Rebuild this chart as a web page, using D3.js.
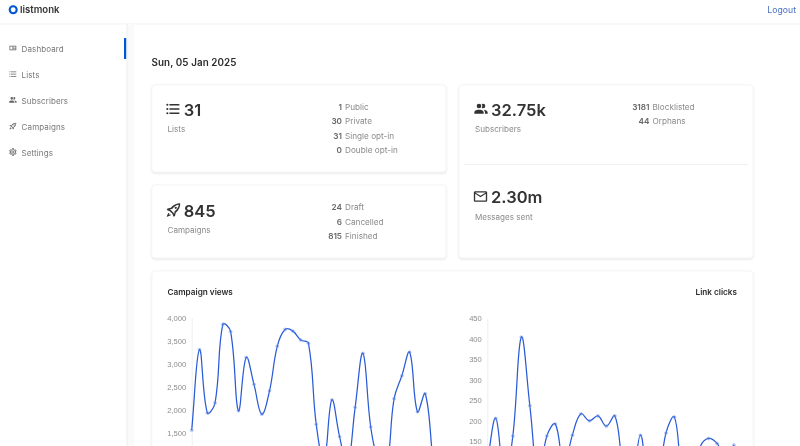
<!DOCTYPE html>
<html>
<head>
<meta charset="utf-8">
<script src="https://cdn.jsdelivr.net/npm/d3@7"></script>
<style>
  html, body { margin: 0; padding: 0; background: #fff; overflow: hidden; }
  svg { display: block; filter: blur(0.3px); }
  text { font-family: Inter, "Noto Sans", sans-serif; }
  .tick text { font-family: "Liberation Sans", sans-serif; }
</style>
</head>
<body>
<svg id="page" width="800" height="446"></svg>
<script>
const navItems = ["Dashboard", "Lists", "Subscribers", "Campaigns", "Settings"];

const listRows = [["1", "Public"], ["30", "Private"], ["31", "Single opt-in"], ["0", "Double opt-in"]];
const campaignRows = [["24", "Draft"], ["6", "Cancelled"], ["815", "Finished"]];
const subscriberRows = [["3181", "Blocklisted"], ["44", "Orphans"]];

// some of these fall below the fold, so those are guesses from the curve
const viewValues = [1570, 3310, 1945, 2160, 3855, 3700, 1990, 3140, 2560, 1915, 2420, 3385, 3745, 3710, 3520, 3447,
  1695, 900, 2221, 1428, 800, 2063, 3230, 1637, 900, 750, 2249, 2746, 3252, 1968, 2357, 900];
const clickValues = [100, 206, 60, 163, 404, 237, 60, 163, 192, 90, 165, 217, 200, 212, 187,
  212, 90, 50, 165, 50, 50, 170, 209, 60, 40, 135, 157, 145, 110, 141];
const viewDomain = [0, 4000];
const clickDomain = [0, 450];
// only the labels above the fold
const viewTicks = [1500, 2000, 2500, 3000, 3500, 4000];
const clickTicks = [150, 200, 250, 300, 350, 400, 450];

const icons = {
  list: "M7,5H21V7H7V5M7,13V11H21V13H7M4,4.5A1.5,1.5 0 0,1 5.5,6A1.5,1.5 0 0,1 4,7.5A1.5,1.5 0 0,1 2.5,6A1.5,1.5 0 0,1 4,4.5M4,10.5A1.5,1.5 0 0,1 5.5,12A1.5,1.5 0 0,1 4,13.5A1.5,1.5 0 0,1 2.5,12A1.5,1.5 0 0,1 4,10.5M7,19V17H21V19H7M4,16.5A1.5,1.5 0 0,1 5.5,18A1.5,1.5 0 0,1 4,19.5A1.5,1.5 0 0,1 2.5,18A1.5,1.5 0 0,1 4,16.5Z",
  people: "M16 17V19H2V17S2 13 9 13 16 17 16 17M12.5 7.5A3.5 3.5 0 1 0 9 11A3.5 3.5 0 0 0 12.5 7.5M15.94 13A5.32 5.32 0 0 1 18 17V19H22V17S22 13.37 15.94 13M15 4A3.39 3.39 0 0 0 13.07 4.59A5 5 0 0 1 13.07 10.41A3.39 3.39 0 0 0 15 11A3.5 3.5 0 0 0 15 4Z",
  mail: "M22 6C22 4.9 21.1 4 20 4H4C2.9 4 2 4.9 2 6V18C2 19.1 2.9 20 4 20H20C21.1 20 22 19.1 22 18V6M20 6L12 11L4 6H20M20 18H4V8L12 13L20 8V18Z",
  rocket: "M21 3C16 3 11.5 5 8.5 9L4 10L3 12L7 13.5L10.5 17L12 21L14 20L15 15.5C19 12.5 21 8 21 3M19 5C18.7 8 17 11 13.5 13.8L13 16.5L12.8 17L11.9 15.6L8.4 12.1L7 11.2L7.5 11L10.2 10.5C13 7 16 5.3 19 5M15 7.5A1.5 1.5 0 1 0 15 10.5A1.5 1.5 0 1 0 15 7.5M5.5 15.5C4 17 3 21 3 21S7 20 8.5 18.5L7.5 17.5L5.5 18.5L6.5 16.5Z",
  dash: "M3 6H21V18H3V6M5 8V16H11V8H5M13 8V11H19V8H13M13 13V16H19V13H13Z",
  cog: "M12,8A4,4 0 0,1 16,12A4,4 0 0,1 12,16A4,4 0 0,1 8,12A4,4 0 0,1 12,8M12,10A2,2 0 0,0 10,12A2,2 0 0,0 12,14A2,2 0 0,0 14,12A2,2 0 0,0 12,10M10,22C9.75,22 9.54,21.82 9.5,21.58L9.13,18.93C8.5,18.68 7.96,18.34 7.44,17.94L4.95,18.95C4.73,19.03 4.46,18.95 4.34,18.73L2.34,15.27C2.21,15.05 2.27,14.78 2.46,14.63L4.57,12.97L4.5,12L4.57,11L2.46,9.37C2.27,9.22 2.21,8.95 2.34,8.73L4.34,5.27C4.46,5.05 4.73,4.96 4.95,5.05L7.44,6.05C7.96,5.66 8.5,5.32 9.13,5.07L9.5,2.42C9.54,2.18 9.75,2 10,2H14C14.25,2 14.46,2.18 14.5,2.42L14.87,5.07C15.5,5.32 16.04,5.66 16.56,6.05L19.05,5.05C19.27,4.96 19.54,5.05 19.66,5.27L21.66,8.73C21.79,8.95 21.73,9.22 21.54,9.37L19.43,11L19.5,12L19.43,13L21.54,14.63C21.73,14.78 21.79,15.05 21.66,15.27L19.66,18.73C19.54,18.95 19.27,19.04 19.05,18.95L16.56,17.95C16.04,18.34 15.5,18.68 14.87,18.93L14.5,21.58C14.46,21.82 14.25,22 14,22H10M11.25,4L10.88,6.61C9.68,6.86 8.62,7.5 7.85,8.39L5.44,7.35L4.69,8.65L6.8,10.2C6.4,11.37 6.4,12.64 6.8,13.8L4.68,15.36L5.43,16.66L7.86,15.62C8.63,16.5 9.68,17.14 10.87,17.38L11.24,20H12.76L13.13,17.39C14.32,17.14 15.37,16.5 16.14,15.62L18.57,16.66L19.32,15.36L17.2,13.81C17.6,12.64 17.6,11.37 17.2,10.2L19.31,8.65L18.56,7.35L16.15,8.39C15.38,7.5 14.32,6.86 13.12,6.62L12.75,4H11.25Z"
};
const navIcons = ["dash", "list", "people", "rocket", "cog"];

const svg = d3.select("#page");
const blue = "#0055d4";
const line = "#2a5bd7";

function label(x, y, str, size, color, weight, anchor, spacing) {
  return svg.append("text")
    .attr("x", x).attr("y", y)
    .attr("font-size", size)
    .attr("fill", color)
    .attr("font-weight", weight || 400)
    .attr("text-anchor", anchor || "start")
    .attr("letter-spacing", spacing || 0)
    .text(str);
}

function icon(name, x, y, size, color) {
  svg.append("path")
    .attr("d", icons[name])
    .attr("fill", color)
    .attr("transform", `translate(${x},${y}) scale(${size / 24})`);
}

const defs = svg.append("defs");
const shadow = defs.append("filter").attr("id", "cardShadow")
  .attr("x", "-5%").attr("y", "-5%").attr("width", "110%").attr("height", "110%");
shadow.append("feDropShadow")
  .attr("dx", 0).attr("dy", 1).attr("stdDeviation", 1.2)
  .attr("flood-color", "#000").attr("flood-opacity", 0.13);

function card(x, y, w, h) {
  svg.append("rect")
    .attr("x", x).attr("y", y).attr("width", w).attr("height", h)
    .attr("rx", 3)
    .attr("fill", "#fff")
    .attr("stroke", "#f0f0f0")
    .attr("stroke-width", 0.6)
    .attr("filter", "url(#cardShadow)");
}

function rows(data, numX, top) {
  data.forEach((d, i) => {
    label(numX, top + i * 14.5, d[0], 8.2, "#666", 600, "end");
    label(numX + 3, top + i * 14.5, d[1], 8.2, "#8a8a8a", 400);
  });
}

// distance weighted bezier, the line looks like a chart.js tension .4 curve
function tensionCurve(context) {
  const pts = [];
  return {
    lineStart() { pts.length = 0; },
    point(x, y) { pts.push([x, y]); },
    lineEnd() {
      const t = 0.4;
      const ctrl = pts.map((p, i) => {
        const a = pts[i - 1] || p, b = pts[i + 1] || p;
        const d1 = Math.hypot(p[0] - a[0], p[1] - a[1]);
        const d2 = Math.hypot(b[0] - p[0], b[1] - p[1]);
        const sum = d1 + d2 || 1;
        const f1 = t * d1 / sum, f2 = t * d2 / sum;
        return {
          inX: p[0] - f1 * (b[0] - a[0]), inY: p[1] - f1 * (b[1] - a[1]),
          outX: p[0] + f2 * (b[0] - a[0]), outY: p[1] + f2 * (b[1] - a[1])
        };
      });
      context.moveTo(pts[0][0], pts[0][1]);
      for (let i = 1; i < pts.length; i++) {
        context.bezierCurveTo(ctrl[i - 1].outX, ctrl[i - 1].outY, ctrl[i].inX, ctrl[i].inY, pts[i][0], pts[i][1]);
      }
    },
    areaStart() {},
    areaEnd() {}
  };
}

// header and sidebar
svg.append("rect").attr("x", 0).attr("y", 23.5).attr("width", 800).attr("height", 1).attr("fill", "#f3f3f3");
svg.append("rect").attr("x", 127).attr("y", 24).attr("width", 7).attr("height", 422).attr("fill", "#fafafa");
svg.append("rect").attr("x", 126.6).attr("y", 24).attr("width", 0.9).attr("height", 422).attr("fill", "#ececec");
svg.append("circle").attr("cx", 13.2).attr("cy", 9.7).attr("r", 3.5)
  .attr("fill", "none").attr("stroke", blue).attr("stroke-width", 2.1);
label(20, 13.4, "listmonk", 9.6, "#333", 600);
label(796, 13, "Logout", 8.7, "#4a6fc4", 400, "end");

svg.append("rect").attr("x", 124).attr("y", 38).attr("width", 2.2).attr("height", 21).attr("fill", blue);
navItems.forEach((d, i) => {
  icon(navIcons[i], 8.4, 43.5 + i * 26, 9, "#666");
  label(21.6, 51.5 + i * 26, d, 8, "#777", 400, "start", 0.1);
});

label(151.5, 65.8, "Sun, 05 Jan 2025", 9.8, "#2b2b2b", 600, "start", 0.1);

// stat cards
card(152, 85, 294, 87);
icon("list", 164.5, 100.5, 17, "#333");
label(183.7, 116, "31", 16.5, "#333", 600);
label(167.5, 132, "Lists", 8.1, "#8a8a8a");
rows(listRows, 342, 109.5);

card(152, 185, 294, 73);
icon("rocket", 164.5, 201, 18, "#333");
label(183.7, 216.5, "845", 16.5, "#333", 600);
label(167.5, 233, "Campaigns", 8.1, "#8a8a8a");
rows(campaignRows, 342, 210);

card(459, 85, 294, 173);
icon("people", 473, 101, 16, "#333");
label(491, 116, "32.75k", 16.5, "#333", 600);
label(475, 132, "Subscribers", 8.1, "#8a8a8a");
rows(subscriberRows, 649.5, 109.5);
svg.append("rect").attr("x", 464.5).attr("y", 164).attr("width", 283.5).attr("height", 1).attr("fill", "#f0f0f0");
icon("mail", 472.5, 188.5, 16, "#333");
label(491, 203.3, "2.30m", 16.5, "#333", 600);
label(475, 220, "Messages sent", 8.1, "#8a8a8a");

// chart card runs past the bottom of the window
card(152, 271, 601, 200);
label(167.5, 294.5, "Campaign views", 8.2, "#2b2b2b", 600);
label(737, 294.5, "Link clicks", 8.2, "#2b2b2b", 600, "end");

function drawChart(values, domain, ticks, xRange, yRange) {
  const x = d3.scalePoint().domain(d3.range(values.length)).range(xRange);
  const y = d3.scaleLinear().domain(domain).range(yRange);
  const g = svg.append("g");

  const axis = g.append("g")
    .attr("transform", `translate(${xRange[0]},0)`)
    .call(d3.axisLeft(y).tickValues(ticks).tickFormat(d3.format(",")).tickSize(0).tickPadding(5.5));
  axis.select(".domain").attr("stroke", "#e8e8e8").attr("stroke-width", 0.7);
  axis.selectAll("text").attr("font-size", 7.6).attr("fill", "#8c8c8c");

  const path = d3.line()
    .x((d, i) => x(i))
    .y(d => y(d))
    .curve(tensionCurve);

  g.append("path")
    .attr("d", path(values))
    .attr("fill", "none")
    .attr("stroke", line)
    .attr("stroke-width", 1.25);

  g.selectAll("circle")
    .data(values)
    .join("circle")
    .attr("cx", (d, i) => x(i))
    .attr("cy", d => y(d))
    .attr("r", 1.7)
    .attr("fill", "rgba(60,110,225,0.4)")
    .attr("stroke", "rgba(180,200,240,0.6)")
    .attr("stroke-width", 0.5);
}

drawChart(viewValues, viewDomain, viewTicks, [191.7, 433], [502.8, 317.7]);
drawChart(clickValues, clickDomain, clickTicks, [487.3, 734], [502.8, 318.3]);
</script>
</body>
</html>
